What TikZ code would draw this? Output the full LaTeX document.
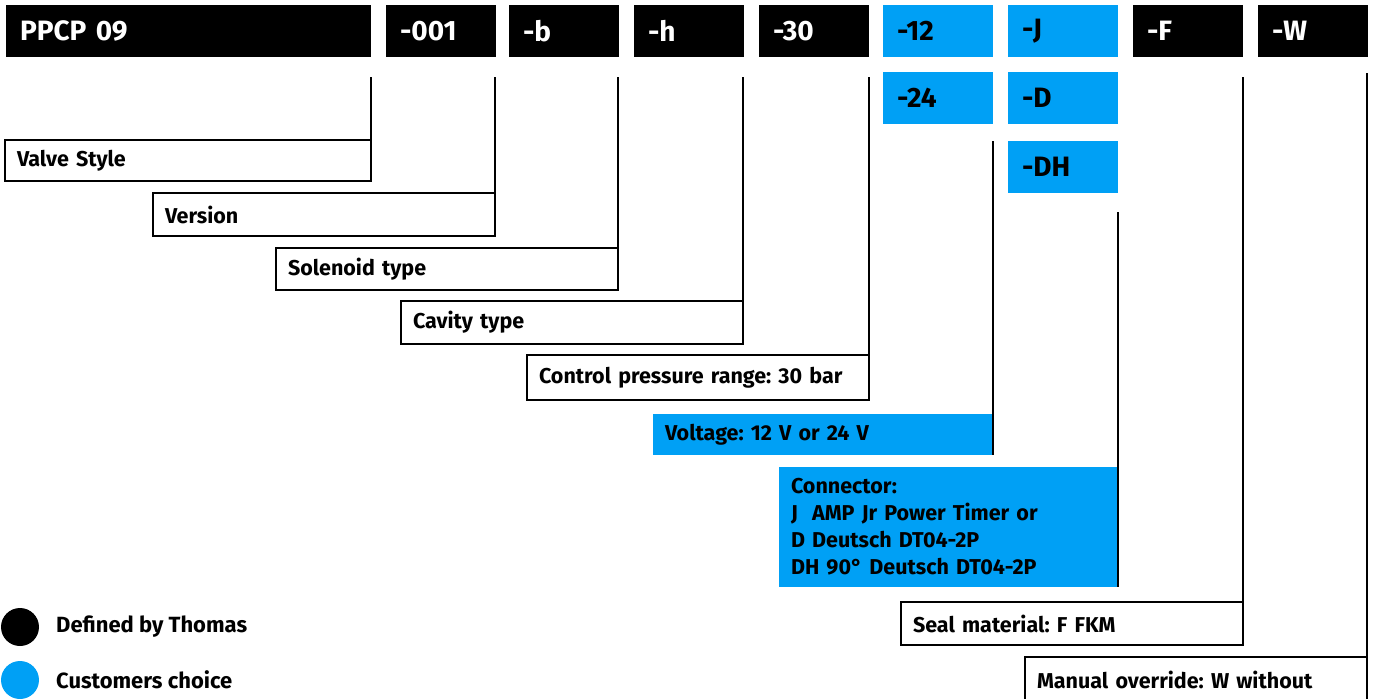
\documentclass[tikz,border=0pt]{standalone}
\usepackage{fontspec}
\setmainfont{Fira Sans}
\frenchspacing
\definecolor{cblue}{RGB}{0,160,245}
\begin{document}
\begin{tikzpicture}[x=1pt,y=-1pt,
  codebox/.style={fill=black, text=white, anchor=north west, inner xsep=14pt, inner ysep=0pt,
    minimum height=52pt, text width=82pt, align=left, outer sep=0pt,
    font=\fontsize{28}{30}\selectfont\bfseries},
  custbox/.style={codebox, fill=cblue, text=black},
  labbox/.style={draw, line width=2pt, fill=white, anchor=north west, inner xsep=12pt, inner ysep=0pt,
    outer sep=0pt, minimum height=43pt, text width=318pt, align=left,
    font=\fontsize{21.5}{27}\selectfont\bfseries},
  custlab/.style={labbox, draw=none, fill=cblue},
  conn/.style={line width=2pt},
  dot/.style={circle, minimum size=38pt, inner sep=0pt},
  legtext/.style={anchor=west, inner sep=0pt, font=\fontsize{22}{24}\selectfont\bfseries}
]
\useasboundingbox (0,0) rectangle (1374,699);

% top code row
\node[codebox, text width=337pt] (ppcp) at (6,5) {PPCP 09};
\node[codebox] (b001) at (386,5) {-001};
\node[codebox] (bb) at (509,5) {-b};
\node[codebox] (bh) at (634,5) {-h};
\node[codebox] (b30) at (759,5) {-30};
\node[custbox] (b12) at (883,5) {-12};
\node[custbox] (bJ) at (1008,5) {-J};
\node[codebox] (bF) at (1133,5) {-F};
\node[codebox] (bW) at (1258,5) {-W};
\node[custbox] (b24) at (883,72) {-24};
\node[custbox] (bD) at (1008,72) {-D};
\node[custbox] (bDH) at (1008,141) {-DH};

% label boxes
\node[labbox, text width=342pt, minimum height=41pt] (valve) at (5,140) {Valve Style};
\node[labbox] (version) at (153,193) {Version};
\node[labbox, minimum height=42pt] (solenoid) at (276,248) {Solenoid type};
\node[labbox] (cavity) at (401,301) {Cavity type};
\node[labbox, minimum height=45pt] (control) at (527,355) {Control pressure range: 30 bar};
\node[custlab, text width=316pt, minimum height=41pt] (voltage) at (653,414) {Voltage: 12 V or 24 V};
\node[custlab, text width=315pt, minimum height=120pt] (connector) at (779,467)
  {Connector:\\J\ \ AMP Jr Power Timer or\\D Deutsch DT04-2P\\DH 90° Deutsch DT04-2P};
\node[labbox] (seal) at (901,602) {Seal material: F FKM};
\node[labbox, minimum height=45pt] (manual) at (1025,657) {Manual override: W without};

% connectors
\draw[conn] (valve.north east |- ppcp.south) ++(0,20) -- (valve.north east);
\draw[conn] (version.north east |- b001.south) ++(0,20) -- (version.north east);
\draw[conn] (solenoid.north east |- bb.south) ++(0,20) -- (solenoid.north east);
\draw[conn] (cavity.north east |- bh.south) ++(0,20) -- (cavity.north east);
\draw[conn] (control.north east |- b30.south) ++(0,20) -- (control.north east);
\draw[conn] (voltage.south east |- b24.south) ++(0,17) -- (voltage.south east);
\draw[conn] (connector.south east |- bDH.south) ++(0,19) -- (connector.south east);
\draw[conn] (seal.north east |- bF.south) ++(0,20) -- (seal.north east);
\draw[conn] (manual.north east |- bW.south) ++(0,16) -- (manual.north east);

% legend
\node[dot, fill=black] (d1) at (20,627) {};
\node[legtext] (l1) at (56,627) {Defined by Thomas};
\node[dot, fill=cblue] (d2) at (20,680) {};
\node[legtext] (l2) at (56,680) {Customers choice};
\end{tikzpicture}
\end{document}
